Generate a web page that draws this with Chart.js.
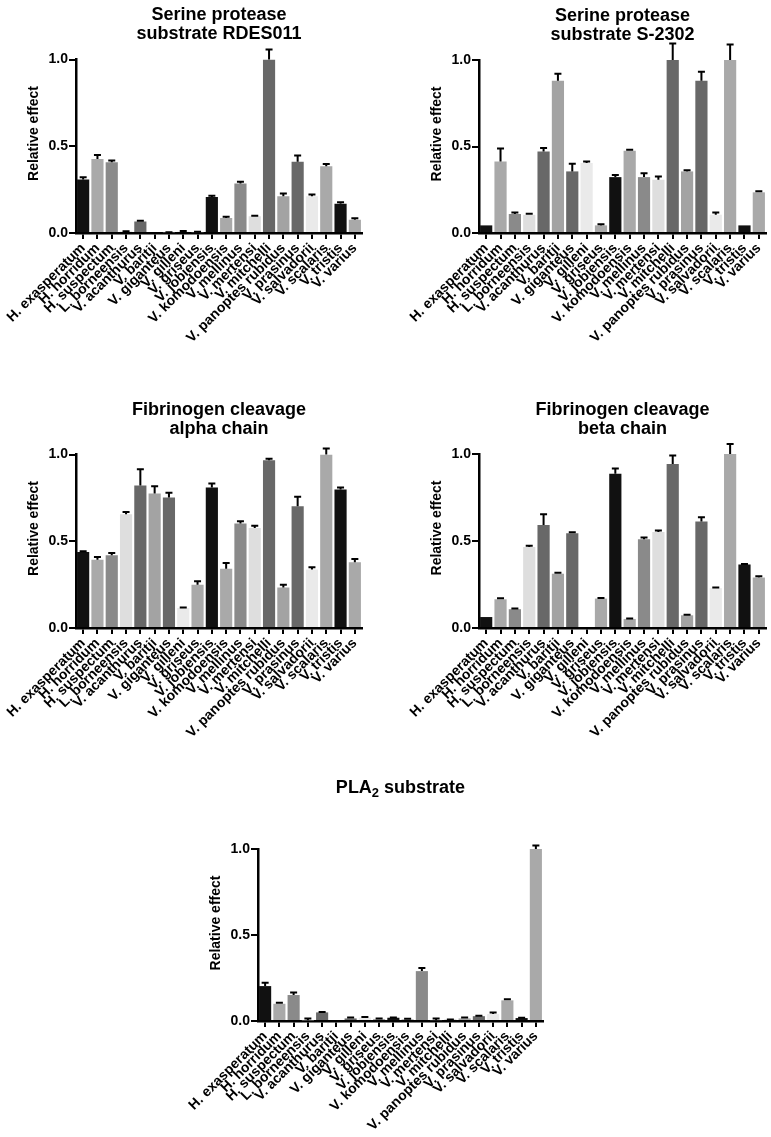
<!DOCTYPE html>
<html>
<head>
<meta charset="utf-8">
<script src="https://cdn.jsdelivr.net/npm/chart.js@4.4.0/dist/chart.umd.min.js"></script>
<style>
  body { margin: 0; background: #fff; width: 771px; height: 1137px; position: relative; overflow: hidden; }
  .panel { position: absolute; }
</style>
</head>
<body>
<div class="panel" style="left:0;top:0;width:390px;height:390px"><canvas id="c1"></canvas></div>
<div class="panel" style="left:390px;top:0;width:381px;height:390px"><canvas id="c2"></canvas></div>
<div class="panel" style="left:0;top:390px;width:390px;height:390px"><canvas id="c3"></canvas></div>
<div class="panel" style="left:390px;top:390px;width:381px;height:390px"><canvas id="c4"></canvas></div>
<div class="panel" style="left:0;top:780px;width:771px;height:372px"><canvas id="c5"></canvas></div>
<script>
const species = ['H. exasperatum', 'H. horridum', 'H. suspectum', 'L. borneensis', 'V. acanthurus',
  'V. baritji', 'V. giganteus', 'V. gilleni', 'V. griseus', 'V. jobiensis', 'V. komodoensis',
  'V. mellinus', 'V. mertensi', 'V. mitchelli', 'V. panoptes rubidus', 'V. prasinus',
  'V. salvadorii', 'V. scalaris', 'V. tristis', 'V. varius'];
const barColours = ['#111111', '#a9a9a9', '#8a8a8a', '#dedede', '#686868', '#a3a3a3', '#686868', '#eaeaea', '#a9a9a9',
  '#111111', '#a9a9a9', '#8a8a8a', '#dedede', '#686868', '#a3a3a3', '#686868', '#eaeaea', '#a9a9a9',
  '#111111', '#a9a9a9'];
const yTicks = [0, 0.5, 1.0];

// Serine protease substrate RDES011
const rdes011 = [0.308, 0.427, 0.408, 0.008, 0.067, 0, 0.003, 0.008, 0.005, 0.208, 0.087, 0.285, 0.096, 1.0, 0.212, 0.41, 0.212, 0.385, 0.169, 0.077];
const rdes011Err = [0.013, 0.023, 0.01, 0.002, 0.003, 0, 0.002, 0.004, 0.002, 0.006, 0.006, 0.01, 0.004, 0.058, 0.015, 0.036, 0.01, 0.013, 0.008, 0.008];
// Serine protease substrate S-2302
const s2302 = [0.044, 0.413, 0.11, 0.105, 0.471, 0.88, 0.356, 0.404, 0.044, 0.323, 0.475, 0.323, 0.308, 1.0, 0.356, 0.88, 0.106, 1.0, 0.044, 0.235];
const s2302Err = [0, 0.075, 0.008, 0.006, 0.02, 0.04, 0.045, 0.01, 0.006, 0.012, 0.006, 0.023, 0.019, 0.096, 0.006, 0.052, 0.013, 0.09, 0, 0.006];
// Fibrinogen cleavage alpha chain
const alphaChain = [0.438, 0.394, 0.419, 0.656, 0.821, 0.775, 0.752, 0.115, 0.25, 0.81, 0.342, 0.602, 0.577, 0.967, 0.233, 0.702, 0.337, 1.0, 0.798, 0.379];
const alphaChainErr = [0.005, 0.015, 0.013, 0.013, 0.094, 0.042, 0.027, 0.003, 0.02, 0.023, 0.033, 0.013, 0.012, 0.008, 0.017, 0.054, 0.013, 0.035, 0.012, 0.019];
// Fibrinogen cleavage beta chain
const betaChain = [0.063, 0.165, 0.108, 0.465, 0.592, 0.312, 0.544, 0, 0.169, 0.887, 0.052, 0.51, 0.552, 0.942, 0.073, 0.612, 0.229, 1.0, 0.365, 0.29];
const betaChainErr = [0, 0.006, 0.004, 0.008, 0.062, 0.006, 0.006, 0, 0.003, 0.029, 0.003, 0.01, 0.008, 0.05, 0.003, 0.025, 0.004, 0.058, 0.003, 0.008];
// PLA2 substrate
const pla2 = [0.203, 0.1, 0.151, 0.004, 0.05, 0, 0.015, 0.02, 0.012, 0.019, 0.01, 0.29, 0.005, 0.007, 0.015, 0.028, 0.04, 0.12, 0.017, 1.0];
const pla2Err = [0.02, 0.006, 0.015, 0.01, 0.003, 0, 0.006, 0.003, 0.003, 0.002, 0.003, 0.018, 0.01, 0.002, 0.005, 0.003, 0.01, 0.007, 0.002, 0.02];

const FONT = 'Arial, "Liberation Sans", Helvetica, sans-serif';

function makePanel(id, titleLines, values, errors, pad, titleBaselines) {
  const panelText = {
    id: 'panelText',
    afterDraw(chart) {
      const ctx = chart.ctx;
      const a = chart.chartArea;
      ctx.save();
      ctx.fillStyle = '#000';
      ctx.textBaseline = 'alphabetic';
      const cx = (a.left + a.right) / 2;
      titleLines.forEach((parts, li) => {
        // parts: [text, isSubscript]
        let w = 0;
        parts.forEach(p => {
          ctx.font = 'bold ' + (p[1] ? 13 : 18) + 'px ' + FONT;
          w += ctx.measureText(p[0]).width;
        });
        let x = cx - w / 2;
        const y = a.top + titleBaselines[li];
        ctx.textAlign = 'left';
        parts.forEach(p => {
          ctx.font = 'bold ' + (p[1] ? 13 : 18) + 'px ' + FONT;
          ctx.fillText(p[0], x, p[1] ? y + 4 : y);
          x += ctx.measureText(p[0]).width;
        });
      });
      ctx.translate(a.left - 42, a.top + 74);
      ctx.rotate(-Math.PI / 2);
      ctx.textAlign = 'center';
      ctx.textBaseline = 'middle';
      ctx.font = 'bold 14px ' + FONT;
      ctx.fillText('Relative effect', 0, 0);
      ctx.restore();
    }
  };
  const errorBars = {
    id: 'errorBars',
    afterDatasetsDraw(chart) {
      const ctx = chart.ctx;
      const meta = chart.getDatasetMeta(0);
      const ys = chart.scales.y;
      ctx.save();
      ctx.strokeStyle = '#000';
      ctx.lineWidth = 2;
      meta.data.forEach((bar, i) => {
        const e = errors[i];
        if (!e) return;
        const yTop = ys.getPixelForValue(values[i] + e);
        ctx.beginPath();
        ctx.moveTo(bar.x, bar.y);
        ctx.lineTo(bar.x, yTop);
        ctx.moveTo(bar.x - 3.5, yTop);
        ctx.lineTo(bar.x + 3.5, yTop);
        ctx.stroke();
      });
      ctx.restore();
    }
  };
  new Chart(document.getElementById(id), {
    type: 'bar',
    data: {
      labels: species,
      datasets: [{
        data: values,
        backgroundColor: barColours,
        borderWidth: 0,
        barPercentage: 0.85,
        categoryPercentage: 1.0
      }]
    },
    options: {
      responsive: true,
      maintainAspectRatio: false,
      animation: false,
      devicePixelRatio: 1,
      layout: { padding: pad },
      plugins: { legend: { display: false }, title: { display: false }, tooltip: { enabled: false } },
      scales: {
        x: {
          offset: true,
          grid: { display: true, drawOnChartArea: false, drawTicks: true, tickLength: 6, color: '#000', lineWidth: 2, offset: false },
          border: { display: true, color: '#000', width: 2.5 },
          ticks: { autoSkip: false, maxRotation: 45, minRotation: 45, color: '#000', padding: 1,
                   font: { family: FONT, size: 14, weight: 'bold' } },
          afterFit(s) { s.height = 130; s.paddingLeft = 0; s.paddingRight = 0; }
        },
        y: {
          min: 0, max: 1,
          afterBuildTicks(s) { s.ticks = yTicks.map(v => ({ value: v })); },
          grid: { display: true, drawOnChartArea: false, drawTicks: true, tickLength: 7, color: '#000', lineWidth: 2 },
          border: { display: true, color: '#000', width: 2.5 },
          ticks: { color: '#000', padding: 1, font: { family: FONT, size: 14, weight: 'bold' },
                   callback: v => Number(v).toFixed(1) },
          afterFit(s) { s.width = 40; s.paddingTop = 0; s.paddingBottom = 0; }
        }
      }
    },
    plugins: [errorBars, panelText]
  });
}

makePanel('c1', [[['Serine protease', false]], [['substrate RDES011', false]]], rdes011, rdes011Err,
  { left: 36, right: 28, top: 59.5, bottom: 27 }, [-39.5, -20.5]);
makePanel('c2', [[['Serine protease', false]], [['substrate S-2302', false]]], s2302, s2302Err,
  { left: 49, right: 5, top: 60, bottom: 27 }, [-39.5, -20.5]);
makePanel('c3', [[['Fibrinogen cleavage', false]], [['alpha chain', false]]], alphaChain, alphaChainErr,
  { left: 36, right: 28, top: 64.5, bottom: 22 }, [-39.5, -20.5]);
makePanel('c4', [[['Fibrinogen cleavage', false]], [['beta chain', false]]], betaChain, betaChainErr,
  { left: 49, right: 5, top: 64, bottom: 22 }, [-39.5, -20.5]);
makePanel('c5', [[['PLA', false], ['2', true], [' substrate', false]]], pla2, pla2Err,
  { left: 218, right: 228, top: 69, bottom: 1 }, [-56]);
</script>
</body>
</html>
